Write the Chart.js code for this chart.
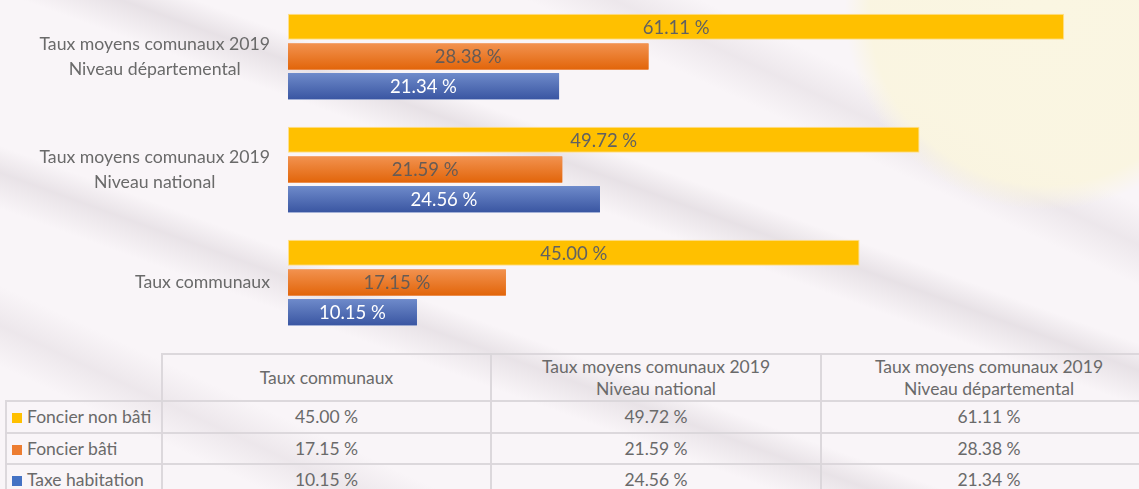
<!DOCTYPE html>
<html>
<head>
<meta charset="utf-8">
<script src="https://cdn.jsdelivr.net/npm/chart.js@4.4.1/dist/chart.umd.min.js"></script>
<style>
  html, body { margin: 0; padding: 0; }
  body {
    width: 1139px; height: 489px; overflow: hidden; position: relative;
    font-family: Lato, "Open Sans", sans-serif;
    background:
      radial-gradient(circle at 1045px 10px, rgba(250,246,226,1) 0, rgba(250,245,224,0.95) 175px, rgba(249,244,240,0) 200px),
      linear-gradient(200deg, rgba(0,0,0,0) 0 38%, rgba(190,180,188,0.3) 41%, rgba(0,0,0,0) 45%, rgba(0,0,0,0) 62%, rgba(190,180,188,0.28) 65%, rgba(0,0,0,0) 69%),
      linear-gradient(205deg, rgba(0,0,0,0) 0 20%, rgba(200,190,198,0.25) 24%, rgba(0,0,0,0) 28%, rgba(0,0,0,0) 80%, rgba(200,190,198,0.25) 84%, rgba(0,0,0,0) 88%),
      #f9f5f8;
  }
  #wrap { position: absolute; left: 0; top: 0; width: 1139px; height: 339px; }
  table {
    position: absolute; left: 5px; top: 353px; width: 1151px;
    border-collapse: collapse; color: #6a6a6a;
    font: 17.5px Lato, "Open Sans", sans-serif;
    table-layout: fixed;
  }
  td { border: 2px solid rgba(218,214,218,0.95); text-align: center; padding: 0; }
  tr.head td { height: 45px; line-height: 22px; }
  tr.row td { height: 29.5px; }
  td.name { text-align: left; padding-left: 5px; white-space: nowrap; }
  td.blank { border-top: none; border-left: none; }
  .key { display: inline-block; width: 10px; height: 10px; margin-right: 5px; vertical-align: 0px; }
</style>
</head>
<body>
<div id="wrap"><canvas id="chart"></canvas></div>
<table id="tbl"></table>
<script>
// categories in table order (left to right); chart shows them bottom to top
const categories = [
  ['Taux communaux'],
  ['Taux moyens comunaux 2019', 'Niveau national'],
  ['Taux moyens comunaux 2019', 'Niveau départemental'],
]
const seriesNames = ['Foncier non bâti', 'Foncier bâti', 'Taxe habitation']
const foncierNonBati = [45.00, 49.72, 61.11]
const foncierBati = [17.15, 21.59, 28.38]
const taxeHabitation = [10.15, 24.56, 21.34]

const colors = ['#FFC000', '#ED7D31', '#4472C4']
const gradients = [null, ['#F2924F', '#E2650A'], ['#6E8ACA', '#3A56A2']]
const labelColors = ['#616161', '#665b55', '#ffffff']
const fmt = v => v.toFixed(2) + ' %'

const rev = a => a.slice().reverse()

const barDeco = {
  id: 'barDeco',
  afterDatasetsDraw(chart) {
    const { ctx } = chart
    ctx.save()
    chart.data.datasets.forEach((ds, i) => {
      chart.getDatasetMeta(i).data.forEach((bar, j) => {
        const { x, y, base, height } = bar.getProps(['x', 'y', 'base', 'height'], true)
        const top = y - height / 2
        if (gradients[i]) {
          const g = ctx.createLinearGradient(0, top, 0, top + height)
          g.addColorStop(0, gradients[i][0])
          g.addColorStop(1, gradients[i][1])
          ctx.fillStyle = g
          ctx.fillRect(base, top, x - base, height)
        }
        ctx.font = '18.5px Lato'
        ctx.textAlign = 'center'
        ctx.textBaseline = 'middle'
        ctx.fillStyle = labelColors[i]
        ctx.fillText(fmt(ds.data[j]), (x + base) / 2, y + 1)
      })
    })
    // category labels: block right-aligned, lines centred within it
    const ys = chart.scales.y
    ctx.font = '17.7px Lato'
    ctx.fillStyle = '#6a6a6a'
    chart.data.labels.forEach((lab, k) => {
      const cy = ys.getPixelForTick(k)
      const w = Math.max(...lab.map(s => ctx.measureText(s).width))
      const cx = chart.chartArea.left - 18 - w / 2
      lab.forEach((s, n) => ctx.fillText(s, cx, cy + (n - (lab.length - 1) / 2) * 25))
    })
    ctx.restore()
  }
}

new Chart(document.getElementById('chart'), {
  type: 'bar',
  data: {
    labels: rev(categories),
    datasets: [
      { label: seriesNames[0], data: rev(foncierNonBati), backgroundColor: colors[0], borderColor: '#ffe08c', borderWidth: 1, borderSkipped: false },
      { label: seriesNames[1], data: rev(foncierBati), backgroundColor: colors[1] },
      { label: seriesNames[2], data: rev(taxeHabitation), backgroundColor: colors[2] },
    ]
  },
  options: {
    indexAxis: 'y', responsive: true, maintainAspectRatio: false, animation: false,
    layout: { padding: 0 },
    categoryPercentage: 0.79, barPercentage: 0.875,
    plugins: { legend: { display: false }, tooltip: { enabled: false } },
    scales: {
      x: { display: false, min: 0, max: 67 },
      y: { grid: { display: false }, border: { display: false }, ticks: { display: false },
           afterFit: s => { s.width = 288 } }
    }
  },
  plugins: [barDeco]
})

// data table under the chart
const tbl = document.getElementById('tbl')
const widths = [156, 329, 330, 336]
let html = '<colgroup>' + widths.map(w => `<col style="width:${w}px">`).join('') + '</colgroup>'
html += '<tr class="head"><td class="blank"></td>' + categories.map(c => `<td>${c.join('<br>')}</td>`).join('') + '</tr>'
const rows = [foncierNonBati, foncierBati, taxeHabitation]
rows.forEach((r, i) => {
  html += `<tr class="row"><td class="name"><span class="key" style="background:${colors[i]}"></span>${seriesNames[i]}</td>` +
    r.map(v => `<td>${fmt(v)}</td>`).join('') + '</tr>'
})
tbl.innerHTML = html
</script>
</body>
</html>
